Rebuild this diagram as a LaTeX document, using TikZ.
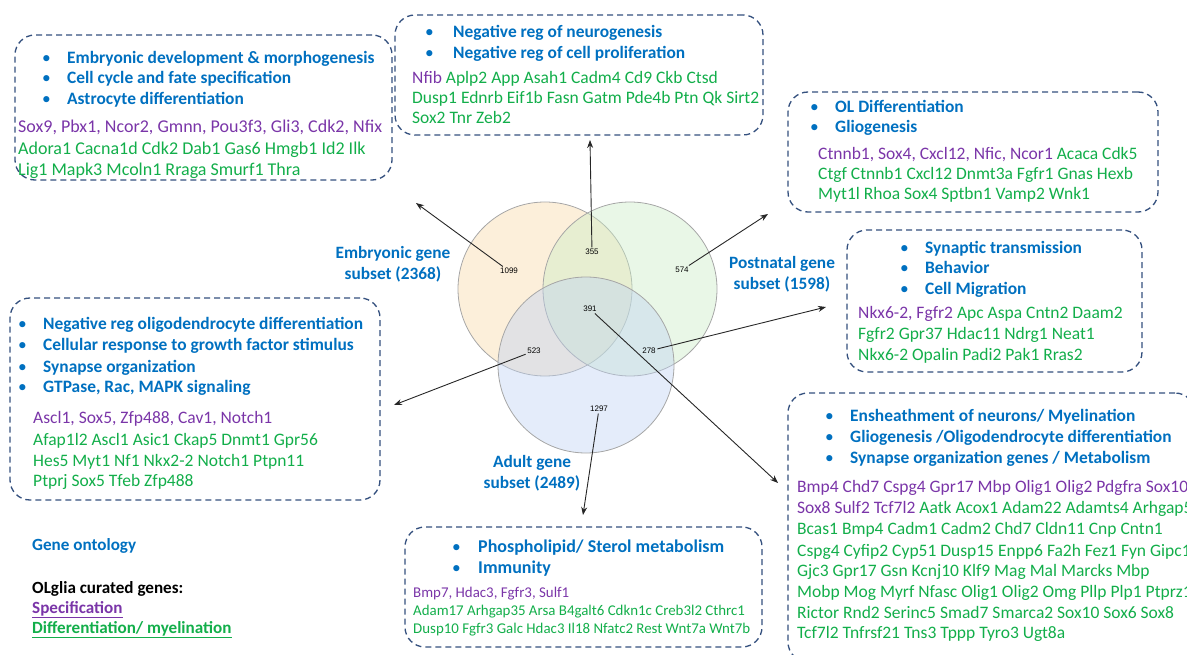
\documentclass[tikz,border=0pt]{standalone}
\usepackage{fontspec}
\setmainfont{Carlito}
\newfontfamily\numfont{Liberation Sans}
\usetikzlibrary{arrows.meta}
\definecolor{goblue}{HTML}{0070C0}
\definecolor{spurple}{HTML}{7A35A8}
\definecolor{dgreen}{HTML}{12AE4A}
\definecolor{boxline}{HTML}{34507E}
\definecolor{vorange}{HTML}{F9D9A6}
\definecolor{vgreen}{HTML}{CBEDC6}
\definecolor{vblue}{HTML}{BED2F2}
\newcommand{\pu}[1]{\textcolor{spurple}{#1}}
\newcommand{\gr}[1]{\textcolor{dgreen}{#1}}
\tikzset{
  gobox/.style={draw=boxline, line width=1.3pt, dash pattern=on 6pt off 4pt, rounded corners=20pt, inner sep=0pt},
  hd/.style={anchor=base west, inner sep=0pt, text=goblue, font=\fontsize{17.4}{20}\selectfont\bfseries},
  hdbig/.style={hd, font=\fontsize{18}{21}\selectfont\bfseries},
  bul/.style={anchor=base west, inner sep=0pt, text=goblue, font=\fontsize{17.4}{20}\selectfont},
  gn/.style={anchor=base west, inner sep=0pt, font=\fontsize{17.5}{20}\selectfont},
  gnbig/.style={gn, font=\fontsize{18}{21}\selectfont},
  gnsmall/.style={gn, font=\fontsize{14.9}{17}\selectfont},
  leg/.style={hd, font=\fontsize{17.1}{20}\selectfont\bfseries},
  vlab/.style={text=goblue, inner sep=0pt, font=\fontsize{17.3}{21}\selectfont\bfseries, align=center},
  num/.style={inner sep=1.5pt, font=\numfont\fontsize{8}{9}\selectfont},
  vc/.style={draw=gray!70, line width=0.8pt, fill opacity=0.42},
  arr/.style={-{Stealth[length=8pt,width=6pt]}, line width=0.9pt, black!85}
}
\begin{document}
\begin{tikzpicture}[x=1pt,y=-1pt]
\useasboundingbox (0,0) rectangle (1187,655);
\clip (0,0) rectangle (1187,655);

% Venn circles
\node[vc, circle, fill=vorange, minimum size=174pt] (cemb) at (545,289) {};
\node[vc, circle, fill=vgreen, minimum size=174pt] (cpost) at (630,289) {};
\node[vc, circle, fill=vblue, minimum size=176pt] (cadult) at (586,365) {};

% numbers
\node[num] (n1099) at (509,271) {1099};
\node[num] (n355) at (592,252) {355};
\node[num] (n574) at (682,270) {574};
\node[num] (n391) at (590,309) {391};
\node[num] (n523) at (534,351) {523};
\node[num] (n278) at (649,351) {278};
\node[num] (n1297) at (599,409) {1297};

% venn labels
\node[vlab] (lemb) at (393,264) {Embryonic gene\\subset (2368)};
\node[vlab] (lpost) at (782,274) {Postnatal gene\\subset (1598)};
\node[vlab] (ladult) at (532,473) {Adult gene\\subset (2489)};

% arrow tips
\coordinate (t1) at (416,203);
\coordinate (t2) at (590,140);
\coordinate (t3) at (768,214);
\coordinate (t4) at (826,307);
\coordinate (t5) at (394,405);
\coordinate (t6) at (778,483);
\coordinate (t7) at (583,515);
\draw[arr] (n1099) -- (t1);
\draw[arr] (n355) -- (t2);
\draw[arr] (n574) -- (t3);
\draw[arr] (n278) -- (t4);
\draw[arr] (n523) -- (t5);
\draw[arr] (n391) -- (t6);
\draw[arr] (n1297) -- (t7);

% Box 1: embryonic
\node[gobox, minimum width=377pt, minimum height=145pt] (bemb) at (203.5,107.5) {};
\node[bul] at (42,64) {•}; \node[hd] at (67,64) {Embryonic development \& morphogenesis};
\node[bul] at (42,84) {•}; \node[hd] at (67,84) {Cell cycle and fate specification};
\node[bul] at (42,105) {•}; \node[hd] at (67,105) {Astrocyte differentiation};
\node[gnbig] at (18,133) {\pu{Sox9, Pbx1, Ncor2, Gmnn, Pou3f3, Gli3, Cdk2, Nfix}};
\node[gnbig] at (18,155) {\gr{Adora1 Cacna1d Cdk2 Dab1 Gas6 Hmgb1 Id2 Ilk}};
\node[gnbig] at (18,176) {\gr{Lig1 Mapk3 Mcoln1 Rraga Smurf1 Thra}};

% Box 2: negative reg
\node[gobox, minimum width=368pt, minimum height=120pt] (bneg) at (579,75) {};
\node[bul] at (425,38) {•}; \node[hd] at (453,38) {Negative reg of neurogenesis};
\node[bul] at (425,59) {•}; \node[hd] at (453,59) {Negative reg of cell proliferation};
\node[gn] at (412,84) {\pu{Nfib} \gr{Aplp2 App Asah1 Cadm4 Cd9 Ckb Ctsd}};
\node[gn] at (412,104) {\gr{Dusp1 Ednrb Eif1b Fasn Gatm Pde4b Ptn Qk Sirt2}};
\node[gn] at (412,124) {\gr{Sox2 Tnr Zeb2}};

% Box 3: OL differentiation
\node[gobox, minimum width=370pt, minimum height=120pt] (bol) at (973,152) {};
\node[bul] at (810,113) {•}; \node[hd] at (835,113) {OL Differentiation};
\node[bul] at (810,133) {•}; \node[hd] at (835,133) {Gliogenesis};
\node[gn] at (818,160) {\pu{Ctnnb1, Sox4, Cxcl12, Nfic, Ncor1} \gr{Acaca Cdk5}};
\node[gn] at (818,180) {\gr{Ctgf Ctnnb1 Cxcl12 Dnmt3a Fgfr1 Gnas Hexb}};
\node[gn] at (818,200) {\gr{Myt1l Rhoa Sox4 Sptbn1 Vamp2 Wnk1}};

% Box 4: synaptic
\node[gobox, minimum width=295pt, minimum height=142pt] (bsyn) at (994.5,301) {};
\node[bul] at (900,254) {•}; \node[hd] at (925,254) {Synaptic transmission};
\node[bul] at (900,274) {•}; \node[hd] at (925,274) {Behavior};
\node[bul] at (900,295) {•}; \node[hd] at (925,295) {Cell Migration};
\node[gn] at (858,319) {\pu{Nkx6-2, Fgfr2} \gr{Apc Aspa Cntn2 Daam2}};
\node[gn] at (858,340) {\gr{Fgfr2 Gpr37 Hdac11 Ndrg1 Neat1}};
\node[gn] at (858,360) {\gr{Nkx6-2 Opalin Padi2 Pak1 Rras2}};

% Box 5: left
\node[gobox, minimum width=370pt, minimum height=202pt] (bneo) at (195,399) {};
\node[bul] at (18,330) {•}; \node[hd] at (43,330) {Negative reg oligodendrocyte differentiation};
\node[bul] at (18,351) {•}; \node[hd] at (43,351) {Cellular response to growth factor stimulus};
\node[bul] at (18,372) {•}; \node[hd] at (43,372) {Synapse organization};
\node[bul] at (18,392) {•}; \node[hd] at (43,392) {GTPase, Rac, MAPK signaling};
\node[gn] at (33,423) {\pu{Ascl1, Sox5, Zfp488, Cav1, Notch1}};
\node[gn] at (33,445) {\gr{Afap1l2 Ascl1 Asic1 Ckap5 Dnmt1 Gpr56}};
\node[gn] at (33,466) {\gr{Hes5 Myt1 Nf1 Nkx2-2 Notch1 Ptpn11}};
\node[gn] at (33,486) {\gr{Ptprj Sox5 Tfeb Zfp488}};

% Box 6: bottom right
\node[gobox, minimum width=407pt, minimum height=269pt] (bens) at (991.5,527.5) {};
\node[bul] at (825,421) {•}; \node[hd] at (850,421) {Ensheathment of neurons/ Myelination};
\node[bul] at (825,442) {•}; \node[hd] at (850,442) {Gliogenesis /Oligodendrocyte differentiation};
\node[bul] at (825,463) {•}; \node[hd] at (850,463) {Synapse organization genes / Metabolism};
\node[gn] at (797,492) {\pu{Bmp4 Chd7 Cspg4 Gpr17 Mbp Olig1 Olig2 Pdgfra Sox10}};
\node[gn] at (797,513) {\pu{Sox8 Sulf2 Tcf7l2} \gr{Aatk Acox1 Adam22 Adamts4 Arhgap5}};
\node[gn] at (797,534) {\gr{Bcas1 Bmp4 Cadm1 Cadm2 Chd7 Cldn11 Cnp Cntn1}};
\node[gn] at (797,556) {\gr{Cspg4 Cyfip2 Cyp51 Dusp15 Enpp6 Fa2h Fez1 Fyn Gipc1}};
\node[gn] at (797,576) {\gr{Gjc3 Gpr17 Gsn Kcnj10 Klf9 Mag Mal Marcks Mbp}};
\node[gn] at (797,597) {\gr{Mobp Mog Myrf Nfasc Olig1 Olig2 Omg Pllp Plp1 Ptprz1}};
\node[gn] at (797,618) {\gr{Rictor Rnd2 Serinc5 Smad7 Smarca2 Sox10 Sox6 Sox8}};
\node[gn] at (797,638) {\gr{Tcf7l2 Tnfrsf21 Tns3 Tppp Tyro3 Ugt8a}};

% Box 7: bottom middle
\node[gobox, minimum width=357pt, minimum height=120pt] (bphos) at (583.5,587) {};
\node[bul] at (452,552) {•}; \node[hdbig] at (478,552) {Phospholipid/ Sterol metabolism};
\node[bul] at (452,573) {•}; \node[hdbig] at (478,573) {Immunity};
\node[gnsmall] at (413,597) {\pu{Bmp7, Hdac3, Fgfr3, Sulf1}};
\node[gnsmall] at (413,615) {\gr{Adam17 Arhgap35 Arsa B4galt6 Cdkn1c Creb3l2 Cthrc1}};
\node[gnsmall] at (413,633) {\gr{Dusp10 Fgfr3 Galc Hdac3 Il18 Nfatc2 Rest Wnt7a Wnt7b}};

% Legend
\node[leg] (lgo) at (32,550) {Gene ontology};
\node[leg, text=black] (lcur) at (32,593) {OLglia curated genes:};
\node[leg, text=spurple] (lspec) at (32,613) {\underline{Specification}};
\node[leg, text=dgreen] (ldiff) at (32,633) {\underline{Differentiation/ myelination}};
\end{tikzpicture}
\end{document}
